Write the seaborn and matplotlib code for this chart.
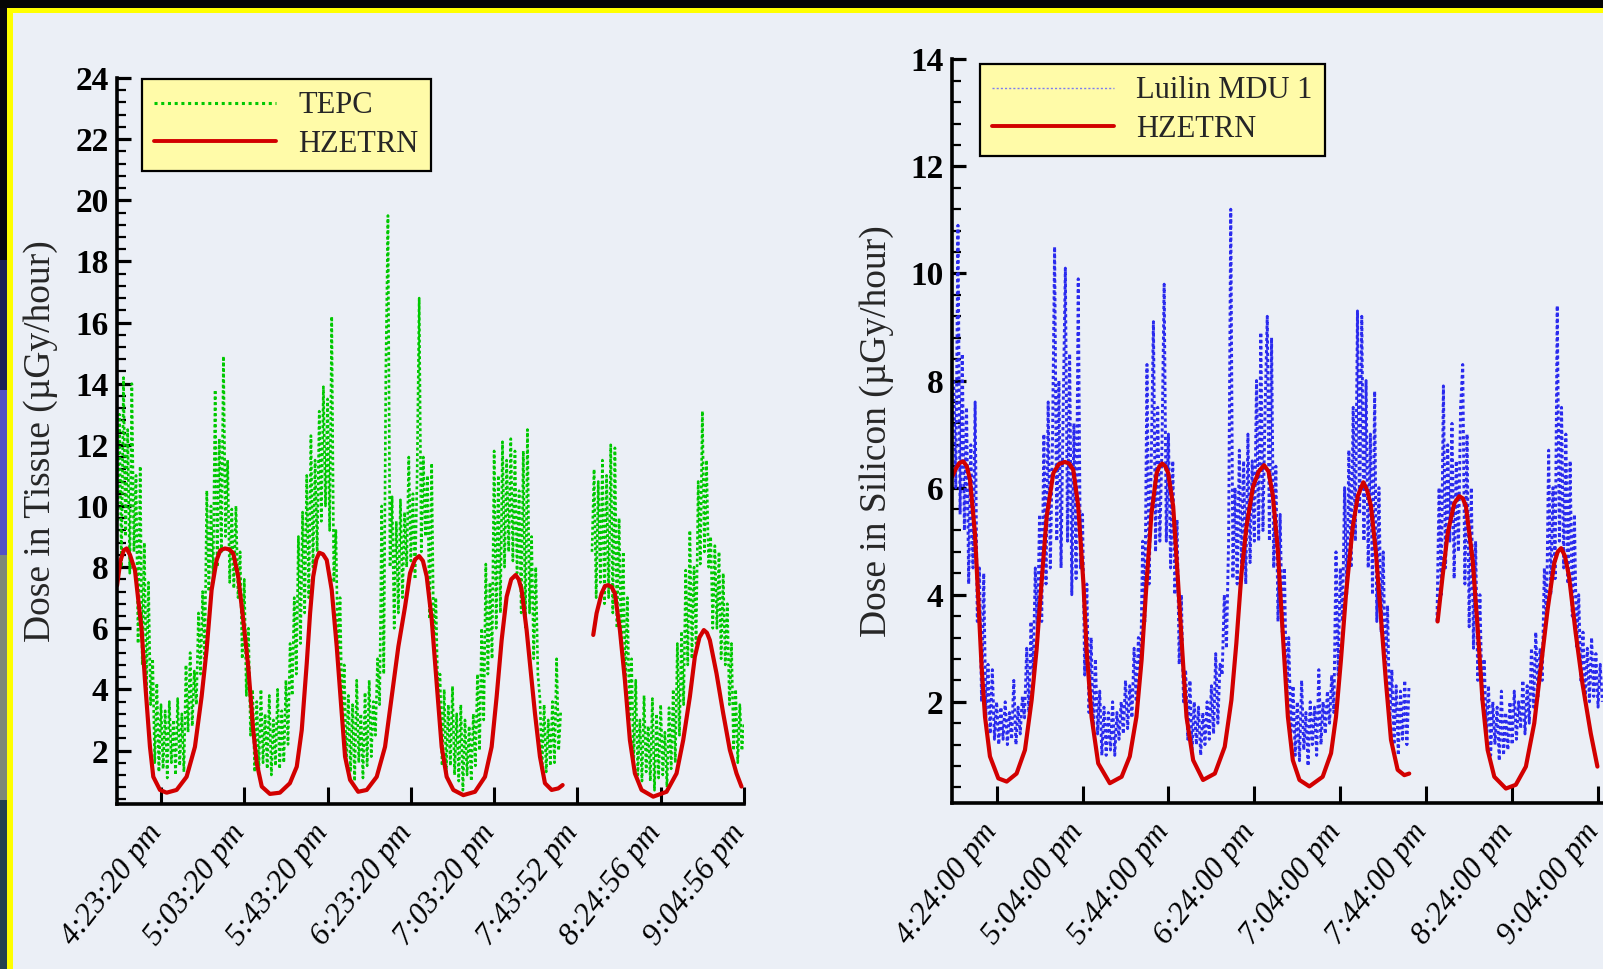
import numpy as np
import pandas as pd
import matplotlib
matplotlib.use("Agg")
import matplotlib.pyplot as plt
import seaborn as sns
from matplotlib.lines import Line2D
from matplotlib.patches import Rectangle
from matplotlib.ticker import MultipleLocator
from matplotlib.transforms import ScaledTranslation

# ---------------------------------------------------------------------------
# Data: minutes after the first labelled time, dose rates in uGy/hour
# ---------------------------------------------------------------------------
tissue_ticks = [0, 40, 80, 120, 160, 200, 240, 280]
tissue_tick_labels = ["4:23:20 pm", "5:03:20 pm", "5:43:20 pm", "6:23:20 pm",
                      "7:03:20 pm", "7:43:52 pm", "8:24:56 pm", "9:04:56 pm"]
silicon_ticks = [0, 40, 80, 120, 160, 200, 240, 280]
silicon_tick_labels = ["4:24:00 pm", "5:04:00 pm", "5:44:00 pm", "6:24:00 pm",
                       "7:04:00 pm", "7:44:00 pm", "8:24:00 pm", "9:04:00 pm"]

tissue_yticks = [2, 4, 6, 8, 10, 12, 14, 16, 18, 20, 22, 24]
silicon_yticks = [2, 4, 6, 8, 10, 12, 14]

# TEPC measurements, one reading per minute
tepc_start_1 = -21
tepc_1 = [9.5, 13.0, 8.0, 14.2, 9.0, 12.5, 7.8, 14.0, 8.5, 11.0,
          5.5, 11.3, 4.8, 8.8, 4.0, 7.5, 3.5, 5.0, 1.6, 4.2,
          1.3, 3.5, 1.4, 3.3, 1.1, 3.6, 1.6, 3.0, 1.2, 3.7,
          1.5, 3.2, 1.3, 4.8, 2.6, 5.2, 2.8, 4.6, 3.5, 6.5,
          4.5, 7.2, 5.0, 10.5, 7.2, 10.0, 7.5, 13.8, 8.0, 12.2,
          8.5, 14.9, 9.0, 11.5, 7.5, 9.9, 7.3, 10.0, 7.0, 8.5,
          5.0, 7.6, 3.8, 6.0, 2.5, 4.0, 1.3, 3.6, 1.4, 4.0,
          1.6, 3.2, 1.4, 3.8, 1.2, 3.0, 1.5, 4.0, 1.4, 3.3,
          1.6, 4.3, 2.2, 5.5, 3.8, 7.0, 4.5, 9.0, 5.5, 9.8,
          6.5, 11.0, 7.0, 12.3, 8.0, 11.5, 8.5, 13.1, 9.5, 13.9,
          10.0, 13.5, 9.2, 16.2, 7.5, 9.2, 5.0, 7.0, 3.0, 4.8,
          1.5, 3.8, 1.3, 3.5, 1.0, 4.3, 1.6, 3.2, 1.1, 3.9,
          1.5, 4.3, 1.8, 3.6, 2.5, 5.0, 3.5, 10.0, 4.5, 14.5,
          19.5, 8.0, 10.3, 6.0, 9.5, 6.5, 10.2, 7.0, 9.8, 8.0,
          11.6, 8.2, 10.4, 7.6, 11.0, 16.8, 8.5, 11.6, 9.0, 11.0,
          6.3, 11.4, 5.5, 7.0, 3.8, 4.5, 1.5, 4.0, 1.3, 3.5,
          1.5, 4.1, 1.2, 3.2, 1.0, 3.5, 0.7, 3.0, 1.2, 2.8,
          1.0, 3.2, 1.5, 4.5, 2.0, 6.0, 3.0, 8.1, 4.5, 7.5,
          5.0, 11.8, 6.0, 11.0, 6.5, 12.1, 8.0, 11.5, 8.5, 12.2,
          8.2, 11.8, 7.8, 10.5, 6.5, 11.8, 6.0, 12.5, 6.5, 9.0,
          5.0, 8.0, 4.5, 3.7, 1.4, 3.5, 1.3, 3.0, 1.5, 3.6,
          1.6, 5.0, 2.0, 3.3]
tepc_start_2 = 207
tepc_2 = [8.5, 11.2, 7.0, 10.8, 7.5, 11.5, 6.8, 11.0, 7.0, 12.0,
          6.5, 11.9, 6.0, 9.6, 5.5, 8.5, 4.0, 7.0, 3.0, 5.0,
          1.5, 4.3, 1.2, 3.0, 1.0, 3.8, 1.3, 2.8, 1.0, 3.7,
          0.7, 3.2, 1.1, 3.5, 1.2, 2.6, 0.8, 3.4, 1.4, 4.0,
          1.6, 5.5, 2.5, 5.9, 3.5, 7.9, 4.8, 9.2, 5.0, 8.0,
          5.5, 10.8, 8.1, 13.1, 8.5, 11.5, 8.0, 9.0, 6.0, 8.7,
          6.0, 8.5, 5.0, 7.8, 4.8, 6.8, 3.5, 5.5, 2.0, 4.0,
          1.6, 3.5, 2.0, 2.9]

# Liulin MDU 1 measurements, one reading per minute
mdu_start_1 = -20
mdu_1 = [8.0, 6.0, 10.9, 5.5, 8.5, 5.2, 7.5, 4.2, 6.8, 4.5,
         7.6, 3.5, 4.5, 2.0, 4.4, 1.7, 2.7, 1.4, 2.6, 1.3,
         2.0, 1.2, 1.9, 1.3, 2.0, 1.2, 1.8, 1.3, 2.4, 1.2,
         1.9, 1.4, 2.1, 1.7, 3.0, 1.8, 3.5, 2.5, 4.5, 3.3,
         5.5, 3.5, 7.0, 4.2, 7.6, 4.5, 6.8, 10.5, 5.0, 8.0,
         4.5, 7.5, 10.1, 5.0, 8.5, 4.0, 7.2, 4.3, 9.9, 4.5,
         5.5, 2.5, 4.2, 1.8, 3.2, 1.5, 2.8, 1.4, 2.2, 1.0,
         1.9, 1.0, 1.8, 1.1, 2.0, 1.0, 1.8, 1.3, 2.0, 1.4,
         2.4, 1.5, 2.3, 1.7, 3.0, 2.0, 3.2, 2.5, 5.0, 3.5,
         8.3, 4.2, 6.5, 9.1, 4.8, 7.5, 5.0, 6.8, 9.8, 5.0,
         7.0, 4.5, 6.5, 4.0, 5.4, 2.7, 4.0, 2.0, 2.6, 1.3,
         2.4, 1.1, 2.0, 1.2, 1.9, 1.0, 1.8, 1.2, 2.0, 1.3,
         2.3, 1.4, 2.9, 1.6, 2.7, 2.5, 4.0, 3.0, 5.0, 11.2,
         4.3, 6.0, 4.2, 6.7, 4.5, 6.5, 4.2, 7.0, 4.6, 6.5,
         5.0, 8.0, 5.0, 8.9, 5.2, 7.5, 9.2, 5.0, 8.8, 4.5,
         6.4, 3.5, 5.5, 3.3, 4.5, 2.0, 3.2, 1.4, 2.3, 1.0,
         2.0, 0.9, 2.4, 1.1, 1.8, 0.8, 2.0, 1.2, 1.9, 1.0,
         2.6, 1.2, 2.0, 1.4, 2.2, 1.6, 2.5, 1.8, 4.8, 2.5,
         4.5, 3.5, 6.0, 4.0, 6.7, 4.5, 7.5, 5.0, 9.3, 5.5,
         9.2, 5.0, 8.0, 4.5, 7.0, 4.0, 7.8, 3.5, 6.0, 3.3,
         4.8, 2.5, 3.8, 1.6, 2.6, 1.2, 2.3, 1.0, 2.2, 1.3,
         2.4, 1.2, 2.3]
mdu_start_2 = 205
mdu_2 = [3.5, 6.0, 4.0, 7.9, 4.5, 6.8, 5.0, 7.2, 4.3, 6.5,
         4.8, 7.5, 8.3, 4.2, 7.0, 3.4, 6.0, 3.0, 5.0, 2.4,
         4.0, 2.0, 2.8, 1.4, 2.3, 1.0, 2.0, 1.2, 1.9, 0.9,
         2.2, 1.0, 1.8, 1.1, 2.0, 1.2, 2.2, 1.3, 2.0, 1.5,
         2.4, 1.4, 2.3, 1.6, 3.0, 1.9, 3.3, 2.1, 3.0, 2.4,
         4.5, 3.5, 6.7, 4.0, 6.0, 4.3, 9.4, 5.0, 7.5, 4.5,
         7.0, 4.2, 6.5, 3.6, 5.5, 3.0, 4.0, 2.4, 3.3, 2.0,
         3.0, 2.0, 3.2, 2.1, 2.9, 1.9, 2.7, 2.0]

# HZETRN model, tissue
hz_tissue_t1 = [-21.1, -19.5, -17.9, -16.5, -14.9, -12.5, -9.3, -7.7, -5.3, -3.7,
                -0.5, 2.7, 7.5, 12.3, 16.3, 19.5, 21.9, 24.3, 26.7, 28.5,
                30.7, 32.8, 34.7, 37.1, 39.5, 41.9, 44.3, 46.0, 48.4, 52.3,
                57.1, 61.9, 65.2, 67.6, 70.0, 71.6, 73.1, 74.6, 76.0, 77.8,
                79.6, 82.0, 84.4, 86.8, 88.4, 90.8, 94.7, 98.8, 103.6, 107.6,
                110.8, 114.0, 117.2, 119.6, 122.0, 124.0, 125.8, 127.6, 130.0, 132.4,
                134.8, 137.2, 140.4, 145.2, 150.8, 155.6, 158.8, 161.2, 163.6, 166.0,
                168.2, 170.3, 171.8, 173.2, 175.6, 178.0, 179.6, 182.0, 184.4, 187.6,
                190.8, 192.9]
hz_tissue_v1 = [7.4, 8.2, 8.55, 8.61, 8.4, 7.9, 5.94, 4.3, 2.12, 1.14,
                0.71, 0.62, 0.71, 1.14, 2.12, 3.76, 5.29, 7.25, 8.23, 8.55,
                8.61, 8.58, 8.45, 7.69, 6.27, 4.74, 2.67, 1.58, 0.82, 0.58,
                0.62, 0.93, 1.47, 2.67, 4.85, 6.49, 7.69, 8.25, 8.47, 8.42,
                8.23, 7.25, 5.4, 3.22, 1.8, 1.04, 0.65, 0.71, 1.14, 2.12,
                3.76, 5.4, 6.7, 7.8, 8.25, 8.36, 8.2, 7.7, 6.3, 4.2,
                2.12, 1.14, 0.71, 0.54, 0.65, 1.14, 2.12, 3.76, 5.61, 7.03,
                7.6, 7.74, 7.6, 7.25, 5.94, 4.3, 3.22, 1.8, 0.93, 0.71,
                0.76, 0.87]
hz_tissue_t2 = [207.6, 209.2, 211.6, 213.2, 214.8, 216.4, 218.0, 220.4, 222.8, 225.2,
                227.6, 230.8, 236.4, 242.8, 247.6, 250.8, 254.0, 256.4, 258.6, 260.7,
                262.2, 263.6, 266.8, 270.0, 273.2, 276.4, 278.8]
hz_tissue_v2 = [5.78, 6.49, 7.14, 7.38, 7.41, 7.35, 7.14, 5.94, 4.3, 2.34,
                1.25, 0.71, 0.49, 0.65, 1.25, 2.34, 3.76, 5.07, 5.7, 5.94,
                5.85, 5.61, 4.52, 3.22, 2.02, 1.25, 0.82]

# HZETRN model, silicon
hz_silicon_t1 = [-20.7, -19.3, -17.4, -15.5, -13.9, -12.4, -10.1, -8.5, -7.0, -5.4,
                 -3.1, 0.8, 4.7, 9.3, 13.2, 16.3, 18.6, 20.9, 23.3, 26.4,
                 29.0, 31.8, 33.8, 35.7, 38.0, 40.4, 41.9, 44.2, 47.3, 52.7,
                 58.2, 62.0, 65.1, 67.5, 69.8, 72.1, 74.5, 75.8, 77.1, 78.5,
                 79.9, 82.2, 84.5, 86.4, 88.4, 91.5, 96.1, 101.6, 106.2, 109.3,
                 111.6, 114.0, 116.3, 119.4, 122.0, 124.5, 126.6, 128.6, 130.9, 133.2,
                 135.6, 137.9, 141.0, 145.6, 151.8, 155.7, 158.0, 160.3, 162.7, 165.8,
                 168.2, 170.7, 172.5, 174.3, 176.6, 178.9, 181.3, 183.6, 186.7, 189.8,
                 192.1]
hz_silicon_v1 = [6.2, 6.33, 6.46, 6.49, 6.4, 6.15, 5.15, 3.9, 2.66, 1.72,
                 0.98, 0.57, 0.51, 0.66, 1.1, 2.03, 2.97, 4.22, 5.46, 6.27,
                 6.44, 6.48, 6.45, 6.33, 5.65, 4.22, 2.97, 1.72, 0.85, 0.48,
                 0.60, 0.98, 1.72, 2.78, 4.22, 5.52, 6.27, 6.4, 6.45, 6.4,
                 6.27, 5.65, 4.22, 2.97, 1.72, 0.91, 0.54, 0.66, 1.16, 2.03,
                 3.09, 4.4, 5.27, 6.02, 6.3, 6.42, 6.3, 5.85, 4.84, 3.28,
                 1.72, 0.91, 0.54, 0.42, 0.60, 1.04, 1.72, 2.78, 4.03, 5.27,
                 5.85, 6.10, 5.95, 5.65, 4.78, 3.59, 2.35, 1.29, 0.73, 0.63,
                 0.66]
hz_silicon_t2 = [205.3, 207.6, 210.0, 213.1, 215.4, 217.0, 218.5, 221.6, 223.9, 226.2,
                 228.6, 231.7, 237.1, 241.7, 246.4, 250.3, 253.4, 256.5, 259.6, 261.2,
                 262.8, 264.6, 266.5, 269.6, 272.7, 276.6, 279.7]
hz_silicon_v2 = [3.5, 4.34, 5.15, 5.71, 5.84, 5.8, 5.65, 4.65, 3.41, 2.03,
                 1.1, 0.6, 0.38, 0.45, 0.79, 1.6, 2.66, 3.72, 4.59, 4.8,
                 4.87, 4.72, 4.34, 3.28, 2.35, 1.41, 0.79]

# ---------------------------------------------------------------------------
# Styling
# ---------------------------------------------------------------------------
BG = "#EBEFF6"
GREEN = "#00C800"
BLUE = "#2A2AEE"
RED = "#D20000"
LEGEND_FACE = "#FFFBA8"

sns.set_theme(style="white")
plt.rcParams["font.family"] = ["Liberation Serif", "DejaVu Serif"]

W, H = 1603, 969
fig = plt.figure(figsize=(W / 100, H / 100), dpi=100, facecolor=BG)


def px_rect(x0, y_top, x1, y_bottom):
    """Figure-fraction rectangle from pixel edges measured from the top-left."""
    return [x0 / W, 1 - y_bottom / H, (x1 - x0) / W, (y_bottom - y_top) / H]


def minute_frame(start, values, seg):
    return pd.DataFrame({"t": start + np.arange(len(values)), "v": values, "seg": seg})


def model_frame(pairs):
    parts = [pd.DataFrame({"t": t, "v": v, "seg": k}) for k, (t, v) in enumerate(pairs)]
    return pd.concat(parts, ignore_index=True)


tepc_df = pd.concat([minute_frame(tepc_start_1, tepc_1, 0),
                     minute_frame(tepc_start_2, tepc_2, 1)], ignore_index=True)
mdu_df = pd.concat([minute_frame(mdu_start_1, mdu_1, 0),
                    minute_frame(mdu_start_2, mdu_2, 1)], ignore_index=True)
hz_tissue_df = model_frame([(hz_tissue_t1, hz_tissue_v1), (hz_tissue_t2, hz_tissue_v2)])
hz_silicon_df = model_frame([(hz_silicon_t1, hz_silicon_v1), (hz_silicon_t2, hz_silicon_v2)])

# page frame: dark strip, yellow rule
frame_bits = [
    (px_rect(0, 0, W, 8), "#050505"),
    (px_rect(0, 8, 7, 260), "#07070f"),
    (px_rect(0, 260, 7, 390), "#1d2256"),
    (px_rect(0, 390, 7, 555), "#5450c4"),
    (px_rect(0, 555, 7, 800), "#7d8878"),
    (px_rect(0, 800, 7, H), "#24424e"),
    (px_rect(7, 8, W, 13), "#FFFF00"),
    (px_rect(7, 8, 13, H), "#FFFF00"),
]
for (x, y, w, h), c in frame_bits:
    fig.add_artist(Rectangle((x, y), w, h, transform=fig.transFigure,
                             facecolor=c, edgecolor="none", zorder=0))

ax1 = fig.add_axes(px_rect(117, 78, 744, 804))
ax2 = fig.add_axes(px_rect(952, 59.3, 1606, 803))

panels = [
    dict(ax=ax1, meas=tepc_df, meas_color=GREEN, meas_lw=1.9, model=hz_tissue_df,
         xlim=(-21.13, 280.0), ylim=(0.25, 24), yticks=tissue_yticks,
         xticks=tissue_ticks, xlabels=tissue_tick_labels,
         ylabel="Dose in Tissue (µGy/hour)", ylabel_x=-0.1212,
         legend_names=["TEPC", "HZETRN"], legend_xy=(142, 79),
         meas_handle=dict(color=GREEN, lw=2.2, linestyle=(0, (1, 1.2)))),
    dict(ax=ax2, meas=mdu_df, meas_color=BLUE, meas_lw=2.1, model=hz_silicon_df,
         xlim=(-20.77, 283.7), ylim=(0.11, 14), yticks=silicon_yticks,
         xticks=silicon_ticks, xlabels=silicon_tick_labels,
         ylabel="Dose in Silicon (µGy/hour)", ylabel_x=-0.1147,
         legend_names=["Luilin MDU 1", "HZETRN"], legend_xy=(980, 64),
         meas_handle=dict(color="#7C7CF2", lw=1.0, linestyle=(0, (1.5, 1.5)))),
]

for p in panels:
    ax = p["ax"]
    ax.set_facecolor("none")
    sns.lineplot(data=p["meas"], x="t", y="v", units="seg", estimator=None,
                 sort=False, color=p["meas_color"], lw=p["meas_lw"],
                 linestyle=(0, (1.1, 1.0)), ax=ax, legend=False)
    sns.lineplot(data=p["model"], x="t", y="v", units="seg", estimator=None,
                 sort=False, color=RED, lw=3.0, ax=ax, legend=False,
                 solid_joinstyle="round", solid_capstyle="round")

    ax.set_xlim(*p["xlim"])
    ax.set_ylim(*p["ylim"])
    for side in ("top", "right"):
        ax.spines[side].set_visible(False)
    for side in ("left", "bottom"):
        ax.spines[side].set_linewidth(2.6)
        ax.spines[side].set_color("black")

    ax.set_yticks(p["yticks"])
    ax.set_yticklabels([str(v) for v in p["yticks"]], fontweight="bold", fontsize=24)
    ax.yaxis.set_minor_locator(MultipleLocator(0.4))
    ax.tick_params(axis="y", which="major", direction="in", left=True,
                   length=10, width=2.3, pad=6, colors="black")
    ax.tick_params(axis="y", which="minor", direction="in", left=True,
                   length=6.5, width=1.6, colors="black")

    ax.set_xticks(p["xticks"])
    ax.set_xticklabels(p["xlabels"], rotation=52, ha="right", va="top",
                       fontstyle="italic", fontsize=22.5)
    ax.tick_params(axis="x", which="major", direction="in", bottom=True,
                   length=12, width=2.2, pad=11, colors="black")
    ax.tick_params(axis="x", which="minor", bottom=False)

    ax.set_xlabel("")
    ax.set_ylabel(p["ylabel"], fontsize=27, va="center")
    ax.yaxis.set_label_coords(p["ylabel_x"], 0.5)

    handles = [Line2D([], [], **p["meas_handle"]),
               Line2D([], [], color=RED, lw=2.8)]
    lx, ly = p["legend_xy"]
    leg = ax.legend(handles, p["legend_names"], loc="upper left",
                    bbox_to_anchor=(lx / W, 1 - ly / H),
                    bbox_transform=fig.transFigure, borderaxespad=0,
                    fontsize=22, handlelength=4.0, handletextpad=0.72,
                    borderpad=0.4, labelspacing=0.31, frameon=True,
                    fancybox=False, facecolor=LEGEND_FACE, edgecolor="black",
                    framealpha=1.0)
    leg.get_frame().set_linewidth(1.6)

    shift = ScaledTranslation(7 / 100, 0, fig.dpi_scale_trans)
    for lbl in ax.get_xticklabels():
        lbl.set_transform(lbl.get_transform() + shift)

fig.savefig("out.png", dpi=100, facecolor=BG)
